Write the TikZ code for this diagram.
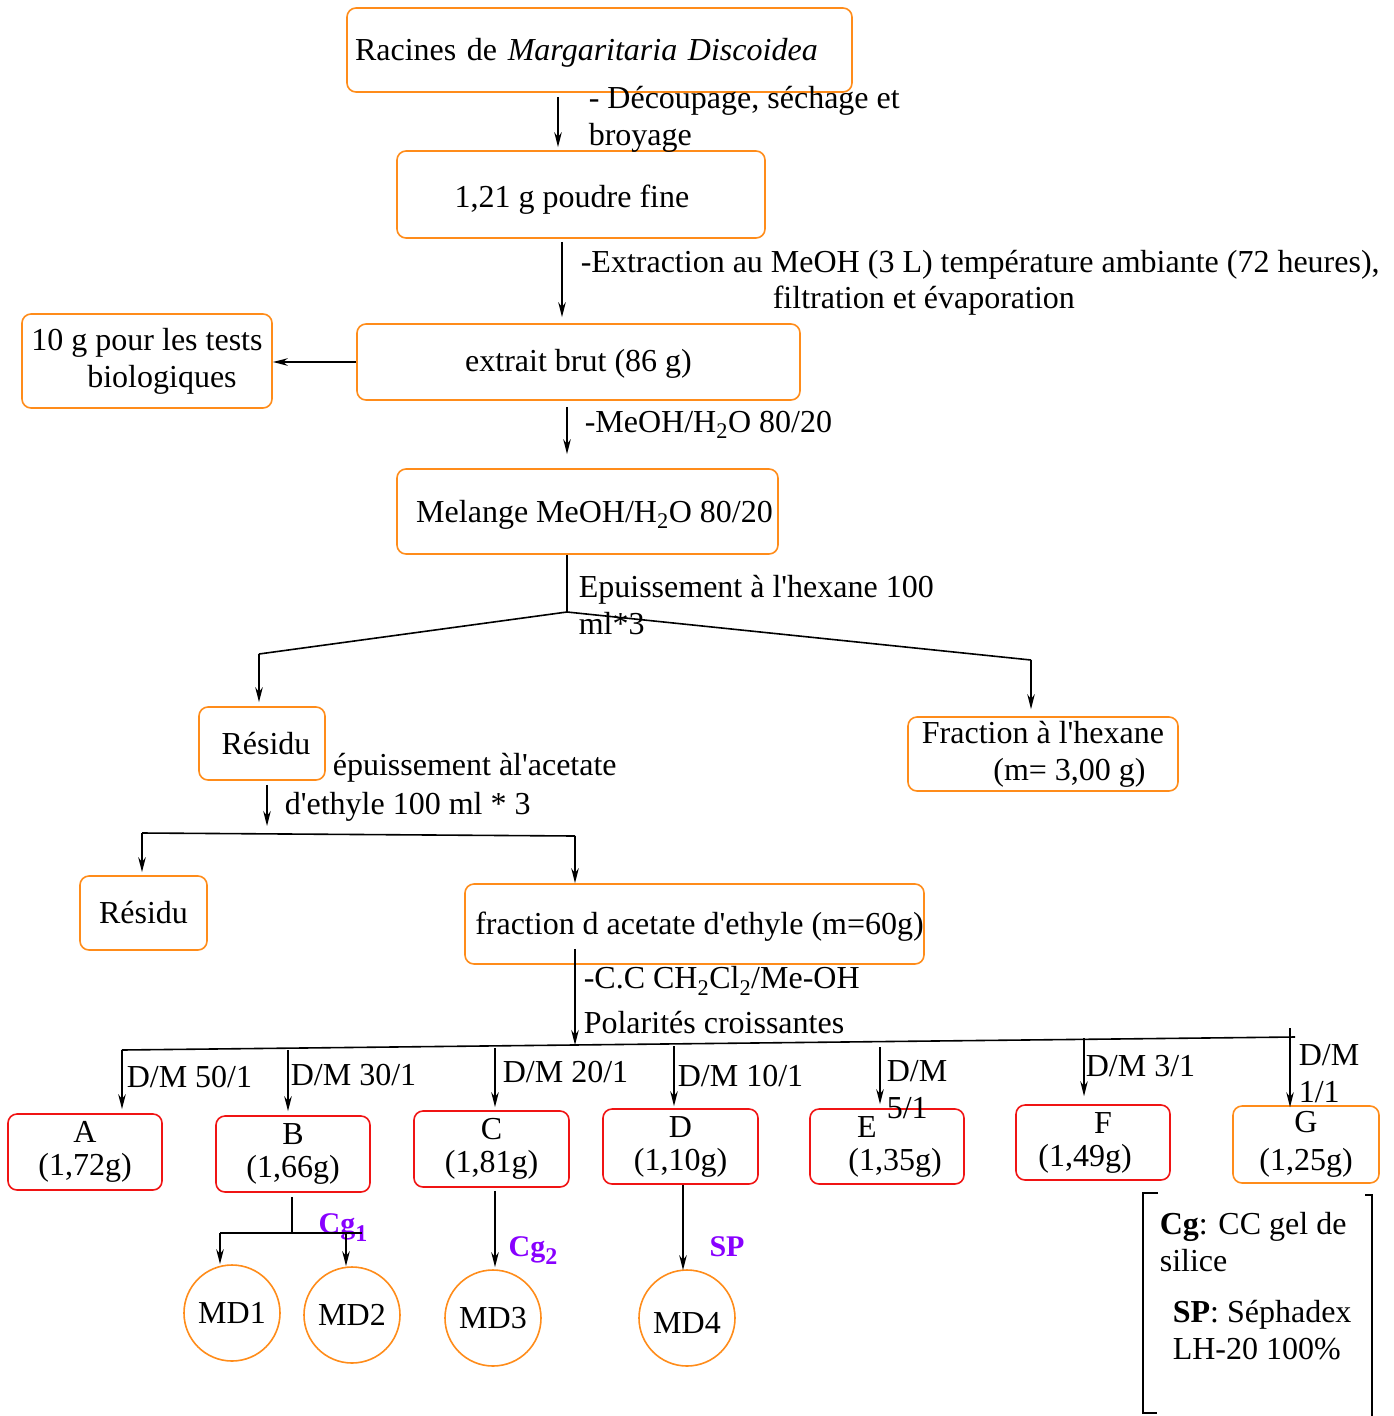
\documentclass[tikz,border=0pt]{standalone}
\usepackage{fontspec}
\setmainfont{Liberation Serif}[Ligatures=TeXOff]
\usetikzlibrary{arrows.meta}
\definecolor{borange}{RGB}{255,140,26}
\definecolor{bred}{RGB}{240,20,20}
\definecolor{bviolet}{RGB}{136,0,255}
\newcommand{\bigsub}[1]{\raisebox{-8pt}{\fontsize{24}{24}\selectfont #1}}
\newcommand{\lowr}[2]{\raisebox{-#1}[\height][\depth]{#2}}
\begin{document}
\begin{tikzpicture}[x=1pt,y=-1pt,line width=1.6pt,
  every node/.style={font=\fontsize{32}{37}\selectfont, inner sep=0pt},
  arr/.style={-{Stealth[length=15pt,width=7.5pt]}},
  obox/.style={draw=borange, rounded corners=9pt, line width=1.6pt},
  rbox/.style={draw=bred, rounded corners=9pt, line width=1.6pt, align=center, font=\fontsize{32}{33}\selectfont},
  gbox/.style={draw=borange, rounded corners=9pt, line width=1.6pt, align=center, font=\fontsize{32}{38}\selectfont},
  circ/.style={draw=borange, circle, minimum size=96pt, line width=1.6pt},
  lab/.style={anchor=west, align=left},
  cg/.style={text=bviolet, font=\fontsize{30}{33}\selectfont\bfseries}]
\useasboundingbox (0,0) rectangle (1394,1416);

% boxes
\node[obox, minimum width=505pt, minimum height=84pt, text width=489pt, inner xsep=8pt, align=left] (b1) at (599.5,50) {\lowr{3pt}{Racines de \textit{Margaritaria Discoidea}}};
\node[obox, minimum width=368pt, minimum height=87pt] (b2) at (581,194.5) {\lowr{5pt}{1,21 g poudre fine}\hspace*{18pt}};
\node[obox, minimum width=443pt, minimum height=76pt] (b3) at (578.5,362) {\lowr{2pt}{extrait brut (86 g)}};
\node[obox, minimum width=250pt, minimum height=94pt, align=center] (b4) at (147,361) {10 g pour les tests\\\hspace*{30pt}biologiques};
\node[obox, minimum width=381pt, minimum height=85pt] (b5) at (587.5,511.5) {\hspace*{14pt}\lowr{3pt}{Melange MeOH/H\textsubscript{2}O 80/20}};
\node[obox, minimum width=126pt, minimum height=73pt] (b6) at (262,743.5) {\hspace*{8pt}Résidu};
\node[obox, minimum width=270pt, minimum height=74pt, align=center] (b7) at (1043,754) {Fraction à l'hexane\\\hspace*{53pt}(m= 3,00 g)};
\node[obox, minimum width=127pt, minimum height=74pt] (b8) at (143.5,913) {Résidu};
\node[obox, minimum width=459pt, minimum height=80pt] (b9) at (694.5,924) {\hspace*{10pt}\lowr{3pt}{fraction d acetate d'ethyle (m=60g)}};

\node[rbox, minimum width=154pt, minimum height=76pt] (A) at (85,1152) {A\\(1,72g)};
\node[rbox, minimum width=154pt, minimum height=76pt] (B) at (293,1154) {B\\(1,66g)};
\node[rbox, minimum width=155pt, minimum height=76pt] (C) at (491.5,1149) {C\\(1,81g)};
\node[rbox, minimum width=155pt, minimum height=75pt] (D) at (680.5,1146.5) {D\\(1,10g)};
\node[rbox, minimum width=154pt, minimum height=75pt] (E) at (887,1146.5) {\hspace*{-40pt}E\\\hspace*{16pt}(1,35g)};
\node[rbox, minimum width=154pt, minimum height=75pt] (F) at (1093,1142.5) {\hspace*{20pt}F\\\hspace*{-16pt}(1,49g)};
\node[gbox, minimum width=146pt, minimum height=77pt] (G) at (1306,1144.5) {G\\(1,25g)};

\node[circ] (m1) at (232,1313) {MD1};
\node[circ] (m2) at (352,1315) {MD2};
\node[circ] (m3) at (493,1318) {MD3};
\node[circ] (m4) at (687,1318) {\lowr{5pt}{MD4}};

% labels
\node[lab] (t1) at (588,119) {- Découpage, séchage et\\broyage};
\node[lab] (t2a) at (580,265) {-Extraction au MeOH (3 L) température ambiante (72 heures),};
\node[lab] (t2b) at (772,301) {filtration et évaporation};
\node[lab] (t3) at (584,425) {-MeOH/H\textsubscript{2}O 80/20};
\node[lab] (t4) at (578,605.5) {Epuissement à l'hexane 100\\ml*3};
\node[lab] (t5a) at (332,768) {épuissement àl'acetate};
\node[lab] (t5b) at (284,807) {d'ethyle 100 ml * 3};
\node[lab] (t6a) at (583,981) {-C.C CH\textsubscript{2}Cl\textsubscript{2}/Me-OH};
\node[lab] (t6b) at (583,1023) {Polarités croissantes};
\node[lab] (dA) at (126,1077) {D/M 50/1};
\node[lab] (dB) at (290,1075) {D/M 30/1};
\node[lab] (dC) at (502,1072) {D/M 20/1};
\node[lab] (dD) at (677,1076) {D/M 10/1};
\node[lab] (dE) at (886,1089.5) {D/M\\5/1};
\node[lab] (dF) at (1085,1066) {D/M 3/1};
\node[lab] (dG) at (1298,1074) {D/M\\1/1};
\node[cg] (cg1) at (343,1228) {Cg\bigsub{1}};
\node[cg] (cg2) at (533,1251) {Cg\bigsub{2}};
\node[cg] (sp) at (727,1247) {SP};

% connector coordinates
\coordinate (x1) at (558,0);
\coordinate (x2) at (562,0);
\coordinate (x3) at (567,0);
\coordinate (sp1) at (567,612);
\coordinate (l1) at (259,654);
\coordinate (r1) at (1031,660);
\coordinate (x6) at (267,0);
\coordinate (e1) at (267,826);
\coordinate (h1) at (142,833);
\coordinate (h2) at (575,836);
\coordinate (s2) at (575,1045);
\coordinate (busL) at (122,1050);
\coordinate (busR) at (1295,1037);
\coordinate (tA) at (122,1050);
\coordinate (tB) at (288,1050);
\coordinate (tC) at (495,1048);
\coordinate (tD) at (674,1046);
\coordinate (tE) at (880,1047);
\coordinate (tF) at (1084,1038);
\coordinate (tG) at (1290,1028);
\coordinate (jB) at (292,1233);
\coordinate (j1) at (220,1233);
\coordinate (j2) at (346,1233);
\coordinate (j3) at (362,1233);
\coordinate (xC) at (495,0);
\coordinate (xD) at (683,0);

% connectors
\draw[arr, shorten <=4pt, shorten >=3pt] (b1.south -| x1) -- (b2.north -| x1);
\draw[arr, shorten <=3pt, shorten >=6pt] (b2.south -| x2) -- (b3.north -| x2);
\draw[arr] (b3.west) -- (b3.west -| b4.east);
\draw[arr, shorten <=6pt, shorten >=14pt] (b3.south -| x3) -- (b5.north -| x3);
\draw (b5.south -| sp1) -- (sp1);
\draw (sp1) -- (l1);
\draw[arr, shorten >=4pt] (l1) -- (l1 |- b6.north);
\draw (sp1) -- (r1);
\draw[arr, shorten >=7pt] (r1) -- (r1 |- b7.north);
\draw[arr, shorten <=4pt] (b6.south -| x6) -- (e1);
\draw (h1) -- (h2);
\draw[arr, shorten >=3pt] (h1) -- (h1 |- b8.north);
\draw[arr] (h2) -- (h2 |- b9.north);
\draw[arr] (b9.south -| s2) ++(0,-16) -- (s2);
\draw (busL) -- (busR);
\draw[arr, shorten >=4pt] (tA) -- (tA |- A.north);
\draw[arr, shorten >=4pt] (tB) -- (tB |- B.north);
\draw[arr, shorten >=3pt] (tC) -- (tC |- C.north);
\draw[arr, shorten >=2pt] (tD) -- (tD |- D.north);
\draw[arr, shorten >=4pt] (tE) -- (tE |- E.north);
\draw[arr, shorten >=8pt] (tF) -- (tF |- F.north);
\draw[arr, shorten >=-2pt] (tG) -- (tG |- G.north);
\draw[shorten <=4pt] (B.south -| jB) -- (jB);
\draw (j1) -- (j3);
\draw[arr] (j1) -- (j1 |- m1.north);
\draw[arr] (j2) -- (j2 |- m2.north);
\draw[arr, shorten <=3pt, shorten >=2pt] (C.south -| xC) -- (m3.north -| xC);
\draw[arr, shorten >=-1pt] (D.south -| xD) -- (m4.north -| xD);

% legend
\draw[line width=1.8pt] (1158,1193) -- (1143,1193) -- (1143,1413) -- (1157,1413);
\draw[line width=1.8pt] (1365,1195) -- (1372,1195) -- (1372,1416);
\node[lab] (lg1) at (1159,1242.5) {\textbf{Cg}: CC gel de\\silice};
\node[lab] (lg2) at (1172,1330) {\textbf{SP}: Séphadex\\LH-20 100\%};
\end{tikzpicture}
\end{document}
